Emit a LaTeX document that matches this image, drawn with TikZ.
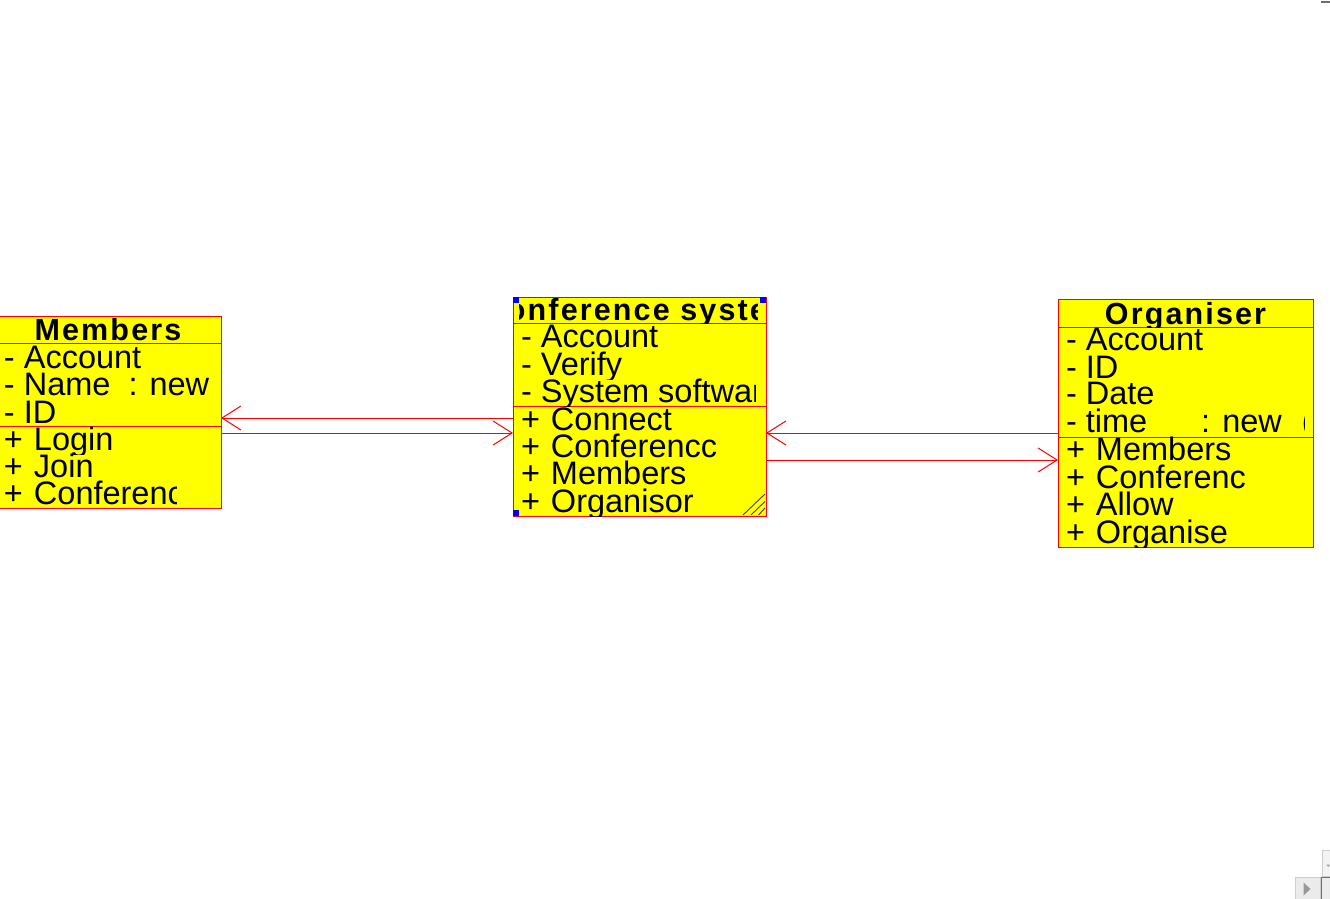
\documentclass[tikz,border=0pt]{standalone}
\usepackage{fontspec}
\setmainfont{Liberation Sans}
\newfontfamily\titlefont[LetterSpace=7]{Liberation Sans}
\usetikzlibrary{arrows.meta}
\definecolor{umlyellow}{RGB}{255,255,0}
\definecolor{umlred}{RGB}{255,0,0}
\definecolor{handleblue}{RGB}{0,0,255}
\definecolor{uigray}{RGB}{235,235,235}
\definecolor{uiedge}{RGB}{205,205,205}
\definecolor{uidark}{RGB}{110,110,110}
\newcommand\umlrow[6]{%
  \begin{scope}
    \clip (#2,#5-25) rectangle (#3,#5+4);
    \node[txt] (#1) at (#4,#5) {#6};
  \end{scope}}
\newcommand\pl{+\hspace{11pt}}
\begin{document}
\begin{tikzpicture}[x=1pt,y=-1pt,
  umlbox/.style={draw=umlred, fill=umlyellow, line width=1pt, inner sep=0pt, outer sep=0pt, rectangle},
  divider/.style={draw=umlred, line width=1pt},
  txt/.style={anchor=base west, inner sep=0pt, outer sep=0pt, text height=20pt, text depth=3pt, font=\fontsize{32.5}{32.5}\selectfont},
  ttl/.style={anchor=base, inner sep=0pt, outer sep=0pt, text height=20pt, text depth=2pt, font=\titlefont\bfseries\fontsize{30.5}{30.5}\selectfont},
  assoc/.style={draw=umlred, line width=1pt, -{Straight Barb[length=19pt,width=24pt]}},
  handle/.style={fill=handleblue, draw=none},
  hatch/.style={draw=black!75, line width=0.9pt}]
\useasboundingbox (0,0) rectangle (1330,899);
\clip (0,0) rectangle (1330,899);

% ---------------- boxes
\node[umlbox, minimum width=226pt, minimum height=192pt] (mem) at (108,412) {};
\node[umlbox, minimum width=253pt, minimum height=219pt] (conf) at (639.5,406.5) {};
\node[umlbox, minimum width=255pt, minimum height=248pt] (org) at (1185.5,423) {};

% dividers
\draw[divider] (mem.west |- 0,343) -- (mem.east |- 0,343);
\draw[divider] (mem.west |- 0,426) -- (mem.east |- 0,426);
\draw[divider] (conf.west |- 0,323) -- (conf.east |- 0,323);
\draw[divider] (conf.west |- 0,406) -- (conf.east |- 0,406);
\draw[divider] (org.west |- 0,327) -- (org.east |- 0,327);
\draw[divider] (org.west |- 0,437) -- (org.east |- 0,437);

% ---------------- Members
\begin{scope}
  \clip (0,316) rectangle (212,343);
  \node[ttl] (memT) at (108,340) {Members};
\end{scope}
\umlrow{memA}{0}{212}{4}{368}{- Account}
\umlrow{memB}{0}{212}{4}{395.5}{- Name\hspace{18pt}: new}
\umlrow{memC}{0}{212}{4}{423}{- ID}
\umlrow{memD}{0}{212}{4}{450}{\pl Login}
\umlrow{memE}{0}{212}{4}{477.5}{\pl Join}
\umlrow{memF}{0}{176}{4}{504.5}{\pl Conferenc}

% ---------------- Conference system
\begin{scope}
  \clip (519,297) rectangle (757,323);
  \node[ttl] (confT) at (639.5,320) {Conference system};
\end{scope}
\umlrow{confA}{519}{757}{521}{347.7}{- Account}
\umlrow{confB}{519}{757}{521}{375}{- Verify}
\umlrow{confC}{519}{755}{521}{402.3}{- System software}
\umlrow{confD}{519}{757}{521}{430}{\pl Connect}
\umlrow{confE}{519}{757}{521}{457.3}{\pl Conferencc}
\umlrow{confF}{519}{757}{521}{484.6}{\pl Members}
\umlrow{confG}{519}{757}{521}{512}{\pl Organisor}

% ---------------- Organiser
\begin{scope}
  \clip (1063,299) rectangle (1304,327);
  \node[ttl] (orgT) at (1185.5,324) {Organiser};
\end{scope}
\umlrow{orgA}{1063}{1304}{1066}{350.8}{- Account}
\umlrow{orgB}{1063}{1304}{1066}{378}{- ID}
\umlrow{orgC}{1063}{1304}{1066}{404.8}{- Date}
\umlrow{orgD}{1063}{1304}{1066}{432.5}{- time\hspace{54pt}: new\hspace{20pt}(}
\umlrow{orgE}{1063}{1304}{1066}{460}{\pl Members}
\umlrow{orgF}{1063}{1304}{1066}{488}{\pl Conferenc}
\umlrow{orgG}{1063}{1304}{1066}{515.5}{\pl Allow}
\umlrow{orgH}{1063}{1304}{1066}{543}{\pl Organise}

% ---------------- selection handles and resize grip
\fill[handle] (513,297) rectangle (519,303);
\fill[handle] (760,297) rectangle (766,303);
\fill[handle] (513,510) rectangle (519,516);
\draw[hatch] (743,515) -- (765,494);
\draw[hatch] (751,515) -- (765,501.5);
\draw[hatch] (758.5,515) -- (765,508);

% ---------------- associations
\draw[assoc] (conf.west |- 0,418) -- (mem.east |- 0,418);
\draw[assoc] (mem.east |- 0,433) -- (conf.west |- 0,433);
\draw[assoc] (org.west |- 0,433) -- (conf.east |- 0,433);
\draw[assoc] (conf.east |- 0,460) -- (org.west |- 0,460);

% ---------------- window fragments
\draw[uidark, line width=1.5pt] (1321,2) -- (1330,2);
\filldraw[fill=uigray, draw=uiedge] (1295.5,877.5) rectangle (1320,899.5);
\fill[black!40] (1303.5,882.5) -- (1310.5,889) -- (1303.5,895.5) -- cycle;
\filldraw[fill=uigray!60, draw=uiedge] (1322.5,850.5) rectangle (1331,876);
\fill[black!40] (1326.5,864.5) -- (1330,864.5) -- (1328.2,867) -- cycle;
\fill[uigray] (1321,877) rectangle (1331,899);
\draw[uidark, line width=1pt] (1321.5,899) -- (1321.5,877) -- (1331,877);
\end{tikzpicture}
\end{document}
